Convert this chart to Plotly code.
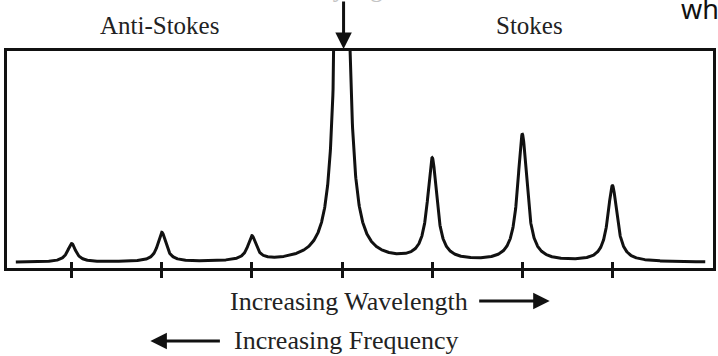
import numpy as np
import plotly.graph_objects as go

# ---- data (x in tick units, y as fraction of frame height) ----
tick_positions = [1, 2, 3, 4, 5, 6, 7]
peak_centres = [1, 2, 3, 4, 5, 6, 7]
peak_heights = [0.085, 0.135, 0.112, 3.97, 0.47, 0.585, 0.35]
peak_halfwidths = [0.055, 0.055, 0.055, 0.05, 0.062, 0.062, 0.062]
baseline_level = 0.026
curve_start, curve_end = 0.38, 8.03

W, H = 718, 356
L, R, T, B = 7, 2, 51, 88
x_range = [0.282, 8.116]
y_range = [0, 1]

# Lorentzian line shapes built from the peak parameters above
xs = np.linspace(curve_start, curve_end, 3000)
ys = np.full_like(xs, baseline_level)
for c, h, g in zip(peak_centres, peak_heights, peak_halfwidths):
    ys += h * g**2 / ((xs - c) ** 2 + g**2)

fig = go.Figure()
fig.add_trace(go.Scatter(x=xs, y=ys, mode="lines",
                         line=dict(color="#111111", width=3),
                         hoverinfo="skip", showlegend=False))
# dummy trace on the overlay axis so the inner ticks get drawn
fig.add_trace(go.Scatter(x=[x_range[0]], y=[-1], xaxis="x2", mode="lines",
                         showlegend=False, hoverinfo="skip"))

serif = "Liberation Serif"
pw = W - L - R
ph = H - T - B

def px2paper(px, py):
    return (px - L) / pw, (H - B - py) / ph

annotations = []
def text(s, px, py, size, color="#222222", family=serif, xanchor="center"):
    x, y = px2paper(px, py)
    annotations.append(dict(text=s, x=x, y=y, xref="paper", yref="paper",
                            showarrow=False, xanchor=xanchor, yanchor="middle",
                            font=dict(family=family, size=size, color=color)))

def arrow(hx, hy, tx, ty):
    x, y = px2paper(hx, hy)
    annotations.append(dict(text="", x=x, y=y, xref="paper", yref="paper",
                            ax=tx - hx, ay=ty - hy, showarrow=True,
                            arrowhead=2, arrowsize=1.1, arrowwidth=3,
                            arrowcolor="#111111"))

text("Anti-Stokes", 160, 25, 25)
text("Stokes", 532, 25, 25)
text("Rayleigh", 352, -12, 25, color="#c4c4c4")
text("wh", 682, 8, 27, color="#111111", family="Noto Sans", xanchor="left")
text("Increasing Wavelength", 350, 301, 26)
text("Increasing Frequency", 348, 340, 26)
arrow(552, 301, 480, 301)
arrow(151, 341, 222, 341)
arrow(345, 49, 345, -2)

fig.update_layout(
    width=W, height=H,
    margin=dict(l=L, r=R, t=T, b=B, pad=0),
    paper_bgcolor="white", plot_bgcolor="white",
    xaxis=dict(range=x_range, showgrid=False, zeroline=False,
               showline=True, mirror=True, linecolor="#111111", linewidth=3,
               tickmode="array", tickvals=tick_positions, showticklabels=False,
               ticks="outside", ticklen=7, tickwidth=2.5, tickcolor="#111111"),
    xaxis2=dict(range=x_range, overlaying="x", anchor="y", side="bottom",
                showgrid=False, zeroline=False, showline=False,
                tickmode="array", tickvals=tick_positions, showticklabels=False,
                ticks="inside", ticklen=6, tickwidth=2.5, tickcolor="#111111"),
    yaxis=dict(range=y_range, showgrid=False, zeroline=False,
               showline=True, mirror=True, linecolor="#111111", linewidth=3,
               showticklabels=False, ticks=""),
    annotations=annotations,
)

fig.write_html("out.html")
